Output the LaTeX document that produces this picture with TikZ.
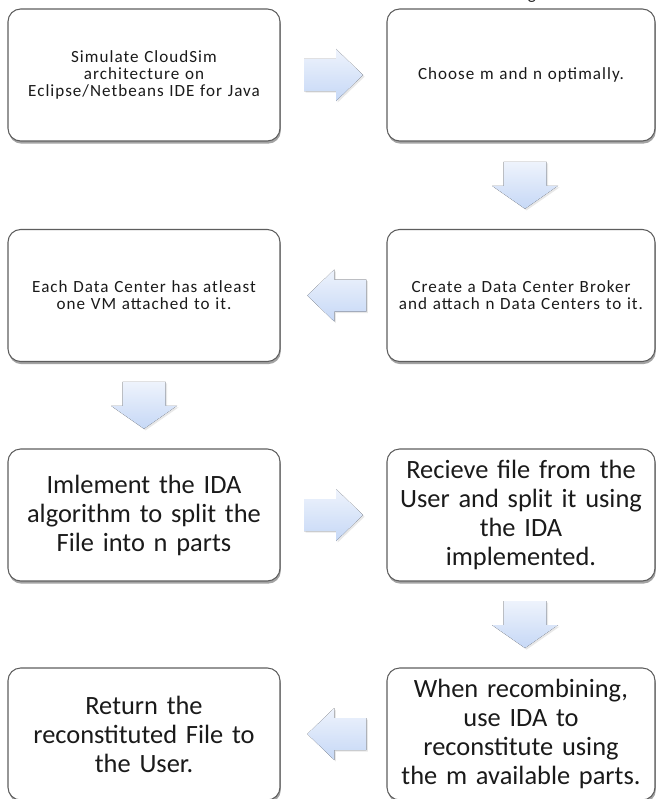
\documentclass[tikz,border=0pt]{standalone}
\usepackage{fontspec}
\setmainfont{Carlito}
\newfontfamily\smallfam{Carlito}[LetterSpace=6]
\usetikzlibrary{shadows,calc}
\definecolor{boxline}{HTML}{5E5E5E}
\definecolor{arrtop}{HTML}{EEF3FC}
\definecolor{arrbot}{HTML}{C6D8F6}
\definecolor{txt}{HTML}{1A1A1A}
\begin{document}
\begin{tikzpicture}[x=0.75pt,y=-0.75pt,
  box/.style={draw=boxline, line width=0.8pt, rounded corners=9.5pt, fill=white, align=center, text=txt, inner sep=2pt,
    drop shadow={shadow xshift=0.6pt, shadow yshift=-2pt, opacity=0.55, fill=black!65}},
  lbox/.style={box, minimum width=204pt, minimum height=99pt, text width=200pt},
  rbox/.style={box, minimum width=201pt, minimum height=99pt, text width=197pt},
  small/.style={font=\smallfam\fontsize{12.8}{12.6}\selectfont},
  big/.style={font=\fontsize{19.8}{21.75}\selectfont},
  arrowfill/.style={top color=arrtop, bottom color=arrbot, draw=none,
    drop shadow={shadow xshift=1.2pt, shadow yshift=-1.2pt, opacity=0.18}},
  pics/harrowpic/.style={code={
    \fill[arrowfill] (-29.5,-16) -- ++(32,0) -- ++(0,-10) -- ++(27,26) -- ++(-27,26) -- ++(0,-10) -- ++(-32,0) -- cycle;}},
  pics/varrowpic/.style={code={
    \fill[arrowfill] (-21.5,-23.5) -- (21.5,-23.5) -- (21.5,0.5) -- (33,0.5) -- (0,23.5) -- (-33,0.5) -- (-21.5,0.5) -- cycle;}},
]
\useasboundingbox (0,0) rectangle (657,799);
\fill[white] (0,0) rectangle (657,799);

% boxes
\node[lbox, small] (b1) at (144,75) {Simulate CloudSim\\architecture on\\Eclipse/Netbeans IDE for Java};
\node[rbox, small] (b2) at (521,75) {Choose m and n optimally.};
\node[lbox, small] (b3) at (144,295.5) {Each Data Center has atleast\\one VM attached to it.};
\node[rbox, small] (b4) at (521,295.5) {Create a Data Center Broker\\and attach n Data Centers to it.};
\node[lbox, big] (b5) at (144,515) {Imlement the IDA\\algorithm to split the\\File into n parts};
\node[rbox, big] (b6) at (521,515) {Recieve file from the\\User and split it using\\the IDA\\implemented.};
\node[lbox, big] (b7) at (144,734) {Return the\\reconstituted File to\\the User.};
\node[rbox, big] (b8) at (521,734) {When recombining,\\use IDA to\\reconstitute using\\the m available parts.};

% anchor points of the block arrows, between the boxes they link
\coordinate (a1) at ($(b1.east)!0.5!(b2.west)$);
\coordinate (a2) at ([xshift=3pt]$(b2.south)!0.5!(b4.north)$);
\coordinate (a3) at ([xshift=2.5pt]$(b4.west)!0.5!(b3.east)$);
\coordinate (a4) at ($(b3.south)!0.5!(b5.north)$);
\coordinate (a5) at ($(b5.east)!0.5!(b6.west)$);
\coordinate (a6) at ([xshift=3pt]$(b6.south)!0.5!(b8.north)$);
\coordinate (a7) at ([xshift=2.5pt]$(b8.west)!0.5!(b7.east)$);

\pic at (a1) {harrowpic};
\pic at (a2) {varrowpic};
\pic[xscale=-1] at (a3) {harrowpic};
\pic at (a4) {varrowpic};
\pic at (a5) {harrowpic};
\pic at (a6) {varrowpic};
\pic[xscale=-1] at (a7) {harrowpic};

% fragment of a caption cut off at the top edge
\node[small, anchor=base, inner sep=0pt, text=txt] (gfrag) at (532,-0.5) {g};
\end{tikzpicture}
\end{document}
